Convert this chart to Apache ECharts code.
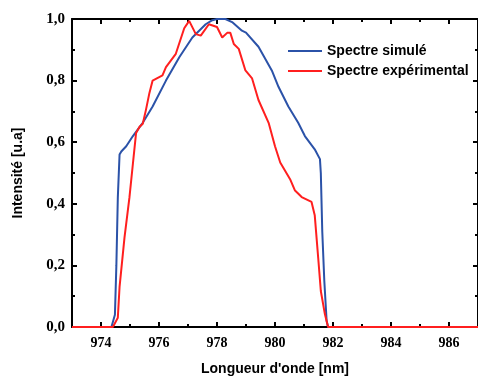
<!DOCTYPE html>
<html>
<head>
<meta charset="utf-8">
<script src="https://cdn.jsdelivr.net/npm/echarts@6/dist/echarts.min.js"></script>
<style>html,body{margin:0;padding:0;background:#fff}#c{width:478px;height:381px}</style>
</head>
<body>
<div id="c"></div>
<script>
const seriesNames = ['Spectre simulé', 'Spectre expérimental'];
const xMajorTicks = [974, 976, 978, 980, 982, 984, 986];
const yTicks = [0, 0.2, 0.4, 0.6, 0.8, 1.0];

const simWavelength = [973, 974.36, 974.48, 974.53, 974.58, 974.64, 974.7, 974.87, 975.1, 975.44, 975.78, 976.24, 976.7, 977.15, 977.61, 977.84, 978.0, 978.29, 978.52, 978.86, 979.0, 979.43, 979.89, 980.12, 980.46, 980.8, 981.03, 981.37, 981.55, 981.58, 981.63, 981.7, 981.78, 981.83, 987];
const simIntensity = [0, 0, 0.04, 0.2, 0.42, 0.56, 0.57, 0.587, 0.62, 0.663, 0.716, 0.8, 0.876, 0.94, 0.983, 0.996, 1.0, 1.0, 0.99, 0.962, 0.956, 0.91, 0.833, 0.78, 0.716, 0.663, 0.62, 0.577, 0.545, 0.5, 0.31, 0.15, 0.02, 0, 0];

const expWavelength = [973, 974.41, 974.58, 974.64, 974.81, 974.98, 975.1, 975.21, 975.33, 975.44, 975.55, 975.67, 975.78, 976.12, 976.24, 976.58, 976.87, 977.04, 977.27, 977.44, 977.72, 978.0, 978.18, 978.35, 978.46, 978.58, 978.75, 978.98, 979.21, 979.43, 979.78, 980.0, 980.18, 980.52, 980.69, 980.92, 981.26, 981.37, 981.49, 981.58, 981.72, 981.83, 987];
const expIntensity = [0, 0, 0.03, 0.13, 0.29, 0.42, 0.53, 0.63, 0.65, 0.66, 0.705, 0.76, 0.8, 0.817, 0.844, 0.887, 0.97, 0.994, 0.951, 0.946, 0.983, 0.974, 0.94, 0.955, 0.955, 0.919, 0.903, 0.833, 0.807, 0.737, 0.663, 0.587, 0.534, 0.48, 0.443, 0.422, 0.406, 0.363, 0.224, 0.117, 0.042, 0, 0];

const pairs = (xs, ys) => xs.map((x, i) => [x, ys[i]]);
const fmtComma = v => v.toFixed(1).replace('.', ',');
const tickFont = { fontFamily: 'Liberation Serif', fontWeight: 'bold', fontSize: 14, color: '#000' };
const black = { color: '#000', width: 2 };

const chart = echarts.init(document.getElementById('c'), null, { renderer: 'canvas' });
chart.setOption({
  animation: false,
  backgroundColor: '#fff',
  grid: { left: 72, top: 19, width: 409, height: 311 },
  legend: {
    orient: 'vertical', left: 283, top: 39, icon: 'rect', itemWidth: 34, itemHeight: 2, itemGap: 6,
    textStyle: { fontFamily: 'Liberation Sans', fontWeight: 'bold', fontSize: 14, color: '#000', lineHeight: 14 },
    data: seriesNames
  },
  xAxis: [
    { type: 'value', position: 'bottom', min: 973, max: 987,
      axisLine: { show: true, lineStyle: black },
      axisTick: { show: true, inside: true, length: 5, lineStyle: black, customValues: xMajorTicks },
      axisLabel: { show: true, margin: 9, customValues: xMajorTicks, formatter: v => String(v), ...tickFont },
      splitLine: { show: false },
      name: "Longueur d'onde [nm]", nameLocation: 'middle', nameGap: 35,
      nameTextStyle: { fontFamily: 'Liberation Sans', fontWeight: 'bold', fontSize: 14, color: '#000' } },
    { type: 'value', position: 'bottom', min: 973, max: 987, interval: 1,
      axisLine: { show: false }, axisTick: { show: true, inside: true, length: 3, lineStyle: black },
      axisLabel: { show: false }, splitLine: { show: false } },
    { type: 'value', position: 'top', min: 973, max: 987,
      axisLine: { show: true, lineStyle: black },
      axisTick: { show: true, inside: true, length: 5, lineStyle: black, customValues: xMajorTicks },
      axisLabel: { show: false }, splitLine: { show: false } },
    { type: 'value', position: 'top', min: 973, max: 987, interval: 1,
      axisLine: { show: false }, axisTick: { show: true, inside: true, length: 3, lineStyle: black },
      axisLabel: { show: false }, splitLine: { show: false } }
  ],
  yAxis: [
    { type: 'value', position: 'left', min: 0, max: 1, interval: 0.2,
      axisLine: { show: true, lineStyle: black },
      axisTick: { show: true, inside: true, length: 5, lineStyle: black },
      minorTick: { show: true, splitNumber: 2, length: 3, lineStyle: black },
      axisLabel: { margin: 7, formatter: fmtComma, ...tickFont, fontSize: 15 },
      splitLine: { show: false },
      name: 'Intensité [u.a]', nameLocation: 'middle', nameGap: 47, nameRotate: 90,
      nameTextStyle: { fontFamily: 'Liberation Sans', fontWeight: 'bold', fontSize: 14, color: '#000' } },
    { type: 'value', position: 'right', min: 0, max: 1, interval: 0.2,
      axisLine: { show: true, lineStyle: black },
      axisTick: { show: true, inside: true, length: 5, lineStyle: black },
      minorTick: { show: true, splitNumber: 2, length: 3, lineStyle: black },
      axisLabel: { show: false }, splitLine: { show: false } }
  ],
  series: [
    { name: seriesNames[0], type: 'line', xAxisIndex: 0, yAxisIndex: 0, showSymbol: false,
      color: '#2b52a8', lineStyle: { width: 2, color: '#2b52a8' }, data: pairs(simWavelength, simIntensity) },
    { name: seriesNames[1], type: 'line', xAxisIndex: 0, yAxisIndex: 0, showSymbol: false,
      color: '#ff1f1f', lineStyle: { width: 2, color: '#ff1f1f' }, data: pairs(expWavelength, expIntensity) }
  ]
});
</script>
</body>
</html>
